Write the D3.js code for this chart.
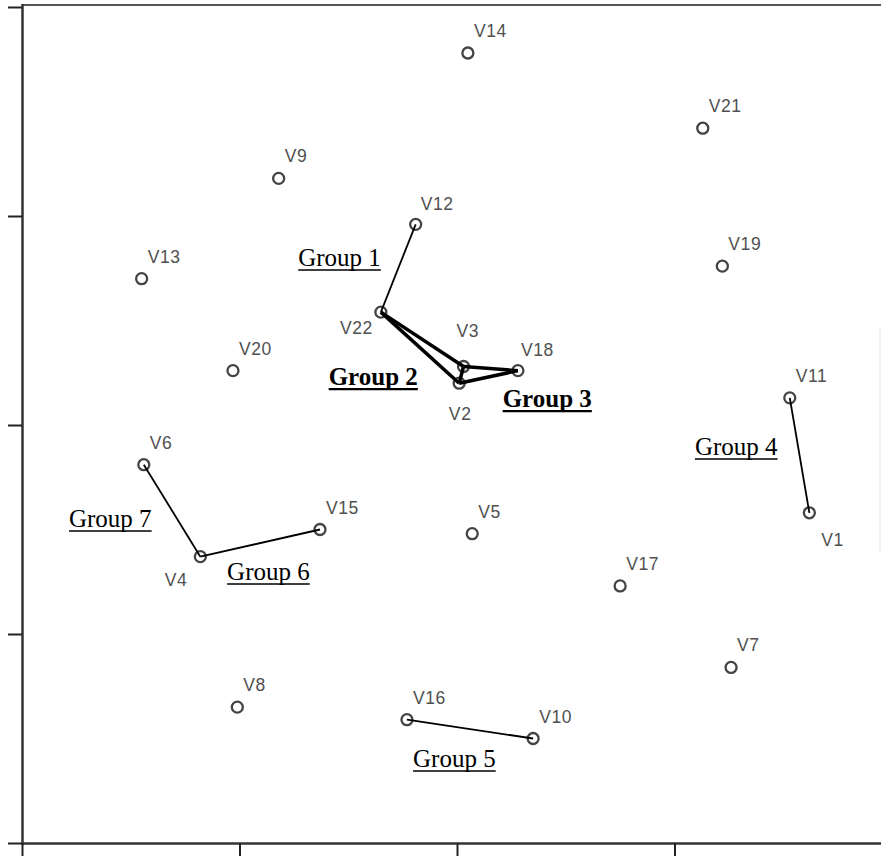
<!DOCTYPE html>
<html>
<head>
<meta charset="utf-8">
<script src="https://cdn.jsdelivr.net/npm/d3@7"></script>
<style>
  html, body { margin: 0; padding: 0; background: #fff; }
  svg { display: block; }
</style>
</head>
<body>
<div id="demo"></div>
<script>

// variable names and their coordinates on the two dimensions
var names = ['V1','V2','V3','V4','V5','V6','V7','V8','V9','V10','V11',
             'V12','V13','V14','V15','V16','V17','V18','V19','V20','V21','V22'];
var dim1 = [1.62, 0.01, 0.03, -1.18, 0.07, -1.44, 1.26, -1.01, -0.82, 0.35, 1.53,
            -0.19, -1.45, 0.05, -0.63, -0.23, 0.75, 0.28, 1.22, -1.03, 1.13, -0.35];
var dim2 = [-0.42, 0.20, 0.28, -0.63, -0.52, -0.19, -1.16, -1.35, 1.18, -1.50, 0.13,
            0.96, 0.70, 1.78, -0.50, -1.41, -0.77, 0.26, 0.76, 0.26, 1.42, 0.54];

var xTicks = [-2, -1, 0, 1, 2];
var yTicks = [-2, -1, 0, 1, 2];

// group links
var groupNames = ['Group 1','Group 2','Group 3','Group 4','Group 5','Group 6','Group 7'];
var groupLinks = [
  [['V12','V22']],
  [['V22','V3'], ['V22','V2'], ['V3','V2']],
  [['V3','V18'], ['V2','V18']],
  [['V11','V1']],
  [['V16','V10']],
  [['V4','V15']],
  [['V6','V4']]
];
// where each group caption sits (data units)
var groupLabelX = [-0.73, -0.59, 0.21, 1.094, -0.202, -1.057, -1.784];
var groupLabelY = [0.761, 0.191, 0.086, -0.144, -1.636, -0.742, -0.488];
var groupBold = [false, true, true, false, false, false, false];

// label placement for point labels (pixels)
var labelOffset = {
  'V1': [12, 33, 'start'],
  'V2': [1, 37, 'middle'],
  'V3': [-7, -29, 'start'],
  'V4': [-13, 29, 'end'],
  'V22': [-8, 22, 'end'],
  'V18': [3, -15, 'start'],
  'V12': [5, -14, 'start']
};
var defaultOffset = [6, -16, 'start'];

var W = 881, H = 856;

var xScale = d3.scaleLinear().domain([-2, 2]).range([22, 892]);
var yScale = d3.scaleLinear().domain([-2, 2]).range([843, 7]);

var svg = d3.select('#demo').append('svg')
  .attr('width', W).attr('height', H);

var pts = names.map(function(n, i) { return {name: n, x: dim1[i], y: dim2[i]}; });
var byName = {};
pts.forEach(function(p) { byName[p.name] = p; });

// frame: faint right edge, top border
svg.append('line')
  .attr('x1', 880).attr('x2', 880).attr('y1', 327).attr('y2', 553)
  .attr('stroke', '#e6e6e6').attr('stroke-width', 1);
svg.append('line')
  .attr('x1', 22).attr('x2', W).attr('y1', 5).attr('y2', 5)
  .attr('stroke', '#555').attr('stroke-width', 2);

// axes
var yAxis = svg.append('g')
  .attr('transform', 'translate(22,0)')
  .call(d3.axisLeft(yScale).tickValues(yTicks).tickSize(14).tickSizeOuter(0).tickFormat(''));
var xAxis = svg.append('g')
  .attr('transform', 'translate(0,843)')
  .call(d3.axisBottom(xScale).tickValues(xTicks).tickSize(13).tickSizeOuter(0).tickFormat(''));
[xAxis, yAxis].forEach(function(a) {
  a.select('.domain').attr('stroke', '#333').attr('stroke-width', 2.5);
  a.selectAll('.tick line').attr('stroke', '#222').attr('stroke-width', 2);
});
yAxis.select('.domain').attr('d', 'M0.5,4V845');
xAxis.select('.domain').attr('d', 'M21,0.5H' + W);

// points
svg.selectAll('.pt')
  .data(pts)
  .enter()
  .append('circle')
  .attr('class', 'pt')
  .attr('cx', function(d) { return xScale(d.x); })
  .attr('cy', function(d) { return yScale(d.y); })
  .attr('r', 5.5)
  .attr('fill', 'none')
  .attr('stroke', '#444')
  .attr('stroke-width', 2.3);

// point labels
svg.selectAll('.lbl')
  .data(pts)
  .enter()
  .append('text')
  .attr('class', 'lbl')
  .each(function(d) {
    var o = labelOffset[d.name] || defaultOffset;
    d3.select(this)
      .attr('x', xScale(d.x) + o[0])
      .attr('y', yScale(d.y) + o[1])
      .attr('text-anchor', o[2]);
  })
  .attr('font-family', 'Arial, "Liberation Sans", sans-serif')
  .attr('font-size', 17.5)
  .attr('letter-spacing', 0.6)
  .attr('fill', '#505050')
  .text(function(d) { return d.name; });

// group links
groupLinks.forEach(function(links, gi) {
  svg.selectAll('.link' + gi)
    .data(links)
    .enter()
    .append('line')
    .attr('x1', function(d) { return xScale(byName[d[0]].x); })
    .attr('y1', function(d) { return yScale(byName[d[0]].y); })
    .attr('x2', function(d) { return xScale(byName[d[1]].x); })
    .attr('y2', function(d) { return yScale(byName[d[1]].y); })
    .attr('stroke', '#000')
    .attr('stroke-width', groupBold[gi] ? 3.5 : 1.8)
    .attr('stroke-linejoin', 'round');
});

// group captions (underlined)
groupNames.forEach(function(g, gi) {
  var tx = xScale(groupLabelX[gi]), ty = yScale(groupLabelY[gi]);
  var t = svg.append('text')
    .attr('x', tx).attr('y', ty)
    .attr('font-family', '"Times New Roman", "Liberation Serif", serif')
    .attr('font-size', 25)
    .attr('font-weight', groupBold[gi] ? 'bold' : 'normal')
    .attr('fill', '#000')
    .text(g);
  var w = t.node().getComputedTextLength();
  svg.append('line')
    .attr('x1', tx).attr('x2', tx + w)
    .attr('y1', ty + 4).attr('y2', ty + 4)
    .attr('stroke', '#000')
    .attr('stroke-width', groupBold[gi] ? 2.2 : 1.5);
});

</script>
</body>
</html>
